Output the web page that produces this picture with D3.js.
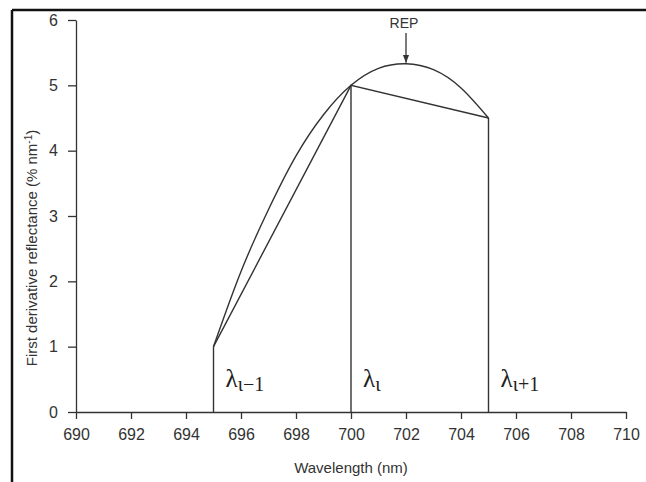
<!DOCTYPE html>
<html>
<head>
<meta charset="utf-8">
<script src="https://cdn.jsdelivr.net/npm/d3@7"></script>
<style>
  body { margin: 0; background: #fff; }
  svg { display: block; }
  .axis text { font-family: "Liberation Sans", Arial, sans-serif; font-size: 16px; fill: #333; }
  .axis path, .axis line { stroke: #333; stroke-width: 1.3; }
</style>
</head>
<body>
<svg id="chart" width="646" height="482"></svg>
<script>
// values
var curveX = [695, 696, 697, 698, 699, 700, 701, 702, 703, 704, 705];
var curveY = [1.0, 2.15, 3.1, 3.92, 4.55, 5.0, 5.26, 5.33, 5.24, 4.96, 4.5];
var chordX = [695, 700, 705];
var chordY = [1.0, 5.0, 4.5];
var bandLabels = ["ι−1", "ι", "ι+1"];
var xTicks = [690, 692, 694, 696, 698, 700, 702, 704, 706, 708, 710];
var yTicks = [0, 1, 2, 3, 4, 5, 6];
var repX = 702, repY = 5.33;

var svg = d3.select("#chart");
var margin = {top: 20, right: 20, bottom: 70, left: 76};

// frame (top and left only, like the scan)
svg.append("line").attr("x1", 12).attr("x2", 646).attr("y1", 10).attr("y2", 10)
  .attr("stroke", "#111").attr("stroke-width", 2.5);
svg.append("line").attr("x1", 12).attr("x2", 12).attr("y1", 10).attr("y2", 482)
  .attr("stroke", "#111").attr("stroke-width", 2.5);

svg.append("defs").append("marker")
  .attr("id", "arrow").attr("viewBox", "0 0 10 10")
  .attr("refX", 10).attr("refY", 5)
  .attr("markerWidth", 6).attr("markerHeight", 6)
  .attr("orient", "auto")
  .append("path").attr("d", "M0,1 L10,5 L0,9 z").attr("fill", "#333");

var g = svg.append("g").attr("transform", "translate(" + margin.left + "," + margin.top + ")");

var x = d3.scaleLinear().domain([690, 710]).range([0, 550]);
var y = d3.scaleLinear().domain([0, 6]).range([392, 0]);

g.append("g")
  .attr("class", "axis axis--x")
  .attr("transform", "translate(0," + y(0) + ")")
  .call(d3.axisBottom(x).tickValues(xTicks).tickSize(7).tickPadding(10).tickSizeOuter(0).tickFormat(d3.format("d")));

g.append("g")
  .attr("class", "axis axis--y")
  .call(d3.axisLeft(y).tickValues(yTicks).tickSize(8).tickPadding(10).tickSizeOuter(0).tickFormat(d3.format("d")));

var curvePts = curveX.map(function(d, i) { return [d, curveY[i]]; });
var chordPts = chordX.map(function(d, i) { return [d, chordY[i]]; });

var curveLine = d3.line()
  .x(function(d) { return x(d[0]); })
  .y(function(d) { return y(d[1]); })
  .curve(d3.curveNatural);

var straight = d3.line()
  .x(function(d) { return x(d[0]); })
  .y(function(d) { return y(d[1]); });

g.append("path")
  .datum(curvePts)
  .attr("fill", "none").attr("stroke", "#333").attr("stroke-width", 1.4)
  .attr("d", curveLine);

g.append("path")
  .datum(chordPts)
  .attr("fill", "none").attr("stroke", "#333").attr("stroke-width", 1.4)
  .attr("d", straight);

g.selectAll(".drop")
  .data(chordPts)
  .enter().append("line")
  .attr("class", "drop")
  .attr("x1", function(d) { return x(d[0]); })
  .attr("x2", function(d) { return x(d[0]); })
  .attr("y1", y(0))
  .attr("y2", function(d) { return y(d[1]); })
  .attr("stroke", "#333").attr("stroke-width", 1.4);

// lambda labels
var lab = g.selectAll(".lam")
  .data(chordPts)
  .enter().append("text")
  .attr("class", "lam")
  .attr("x", function(d) { return x(d[0]) + 12; })
  .attr("y", y(0) - 25)
  .style("font-family", "'Liberation Serif', 'Times New Roman', serif")
  .style("font-size", "25px")
  .attr("fill", "#222");
lab.append("tspan").text("λ");
lab.append("tspan")
  .attr("dy", 4)
  .style("font-size", "20px")
  .text(function(d, i) { return bandLabels[i]; });

// REP arrow
g.append("line")
  .attr("x1", x(repX)).attr("x2", x(repX))
  .attr("y1", 13).attr("y2", y(repY) - 1)
  .attr("stroke", "#333").attr("stroke-width", 1.3)
  .attr("marker-end", "url(#arrow)");

g.append("text")
  .attr("x", x(repX) - 2).attr("y", 8)
  .attr("text-anchor", "middle")
  .style("font-family", "'Liberation Sans', Arial, sans-serif")
  .style("font-size", "14px")
  .attr("fill", "#333")
  .text("REP");

// axis titles
svg.append("text")
  .attr("x", margin.left + x(700)).attr("y", 473)
  .attr("text-anchor", "middle")
  .style("font-family", "'Liberation Sans', Arial, sans-serif")
  .style("font-size", "15px")
  .attr("fill", "#333")
  .text("Wavelength (nm)");

var yt = svg.append("text")
  .attr("transform", "translate(37," + (margin.top + y(3) + 32) + ") rotate(-90)")
  .attr("text-anchor", "middle")
  .style("font-family", "'Liberation Sans', Arial, sans-serif")
  .style("font-size", "15px")
  .attr("fill", "#333");
yt.append("tspan").text("First derivative reflectance (% nm");
yt.append("tspan").attr("dy", -5).style("font-size", "10px").text("-1");
yt.append("tspan").attr("dy", 5).text(")");
</script>
</body>
</html>
